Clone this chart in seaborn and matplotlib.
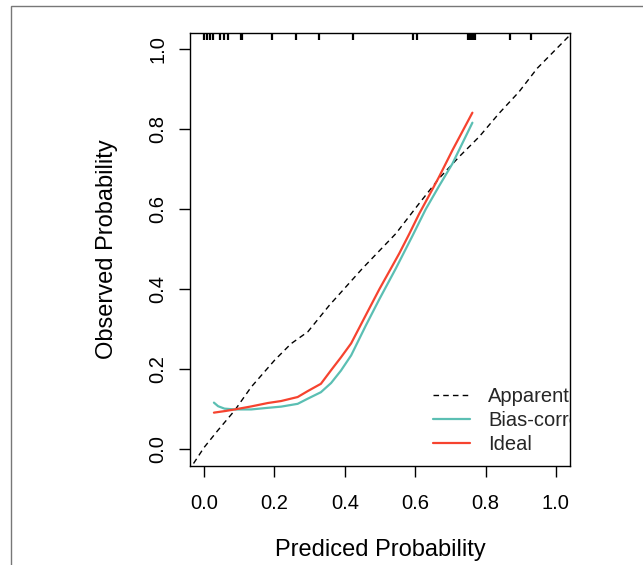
import matplotlib
matplotlib.use("Agg")
import matplotlib.pyplot as plt
import matplotlib.patches as mpatches
import seaborn as sns
import pandas as pd

# ---- data ----
apparent_x = [-0.03, 0.0, 0.039, 0.087, 0.134, 0.20, 0.247, 0.295, 0.356, 0.45, 0.545, 0.611, 0.668, 0.725, 0.782, 0.838, 0.895, 0.947, 1.04]
apparent_y = [-0.035, 0.005, 0.0475, 0.0975, 0.156, 0.2225, 0.264, 0.294, 0.36, 0.452, 0.539, 0.614, 0.677, 0.731, 0.781, 0.839, 0.893, 0.952, 1.035]

bias_x = [0.028, 0.04, 0.058, 0.087, 0.134, 0.181, 0.219, 0.266, 0.295, 0.332, 0.361, 0.389, 0.418, 0.46, 0.498, 0.545, 0.592, 0.63, 0.668, 0.706, 0.7626]
bias_y = [0.117, 0.108, 0.102, 0.100, 0.100, 0.104, 0.107, 0.114, 0.127, 0.143, 0.166, 0.197, 0.235, 0.310, 0.375, 0.452, 0.533, 0.600, 0.658, 0.714, 0.816]

ideal_x = [0.028, 0.06, 0.087, 0.134, 0.181, 0.219, 0.266, 0.295, 0.332, 0.361, 0.389, 0.418, 0.46, 0.498, 0.531, 0.555, 0.583, 0.611, 0.64, 0.668, 0.706, 0.7626]
ideal_y = [0.092, 0.096, 0.100, 0.1075, 0.116, 0.121, 0.131, 0.146, 0.164, 0.198, 0.230, 0.265, 0.336, 0.400, 0.452, 0.490, 0.538, 0.588, 0.635, 0.681, 0.7475, 0.841]

rug_x = [0.0, 0.007, 0.016, 0.024, 0.046, 0.056, 0.067, 0.105, 0.108, 0.193, 0.262, 0.326, 0.424,
         0.595, 0.604, 0.751, 0.754, 0.757, 0.760, 0.763, 0.766, 0.769, 0.87, 0.93]

tick_vals = [0.0, 0.2, 0.4, 0.6, 0.8, 1.0]
tick_labels = ["0.0", "0.2", "0.4", "0.6", "0.8", "1.0"]
legend_labels = ["Apparent", "Bias-corrected", "Ideal"]

sns.set_theme(style="white")
plt.rcParams["font.family"] = ["Liberation Sans", "DejaVu Sans"]

fig = plt.figure(figsize=(6.43, 5.65), dpi=100)
fig.patch.set_facecolor("white")
W, H = 643, 565
ax = fig.add_axes([190 / W, 1 - 465.5 / H, 380 / W, 432.5 / H])

df_a = pd.DataFrame({"x": apparent_x, "y": apparent_y})
df_b = pd.DataFrame({"x": bias_x, "y": bias_y})
df_i = pd.DataFrame({"x": ideal_x, "y": ideal_y})

sns.lineplot(data=df_a, x="x", y="y", ax=ax, color="black", lw=1.0,
             linestyle=(0, (4, 3)), sort=False, estimator=None, label=legend_labels[0])
sns.lineplot(data=df_b, x="x", y="y", ax=ax, color="#5BBFB3", lw=1.6,
             sort=False, estimator=None, label=legend_labels[1])
sns.lineplot(data=df_i, x="x", y="y", ax=ax, color="#F6432F", lw=1.6,
             sort=False, estimator=None, label=legend_labels[2])

ax.vlines(rug_x, 0.984, 1.0, transform=ax.get_xaxis_transform(),
          colors="black", lw=1.6)

ax.set_xlim(-0.04, 1.04)
ax.set_ylim(-0.04, 1.04)
ax.set_xticks(tick_vals)
ax.set_xticklabels(tick_labels)
ax.set_yticks(tick_vals)
ax.set_yticklabels(tick_labels, rotation=90, va="center")
ax.tick_params(axis="both", direction="out", length=8, width=1.0, color="black",
               labelsize=14.5, labelcolor="black", bottom=True, left=True)
ax.tick_params(axis="x", pad=12.5)
ax.tick_params(axis="y", pad=8.5)
for s in ax.spines.values():
    s.set_visible(True)
    s.set_color("black")
    s.set_linewidth(1.0)

ax.set_xlabel("Prediced Probability", fontsize=17, labelpad=19, color="black")
ax.set_ylabel("Observed Probability", fontsize=17, labelpad=22, color="black")

leg = ax.legend(loc="upper left", bbox_to_anchor=(0.6395, 0.182), frameon=False,
                fontsize=14.5, handlelength=1.85, handletextpad=0.9,
                labelspacing=0.25, borderpad=0, borderaxespad=0)
for t in leg.get_texts():
    t.set_clip_on(True)
    t.set_clip_box(ax.bbox)

# outer grey frame
frame = mpatches.Rectangle((11 / W, -0.5), 2.0, 1 - 6 / H + 0.5, transform=fig.transFigure,
                           fill=False, edgecolor="#777777", lw=1.0)
fig.add_artist(frame)

fig.savefig("out.png", dpi=100, facecolor="white")
